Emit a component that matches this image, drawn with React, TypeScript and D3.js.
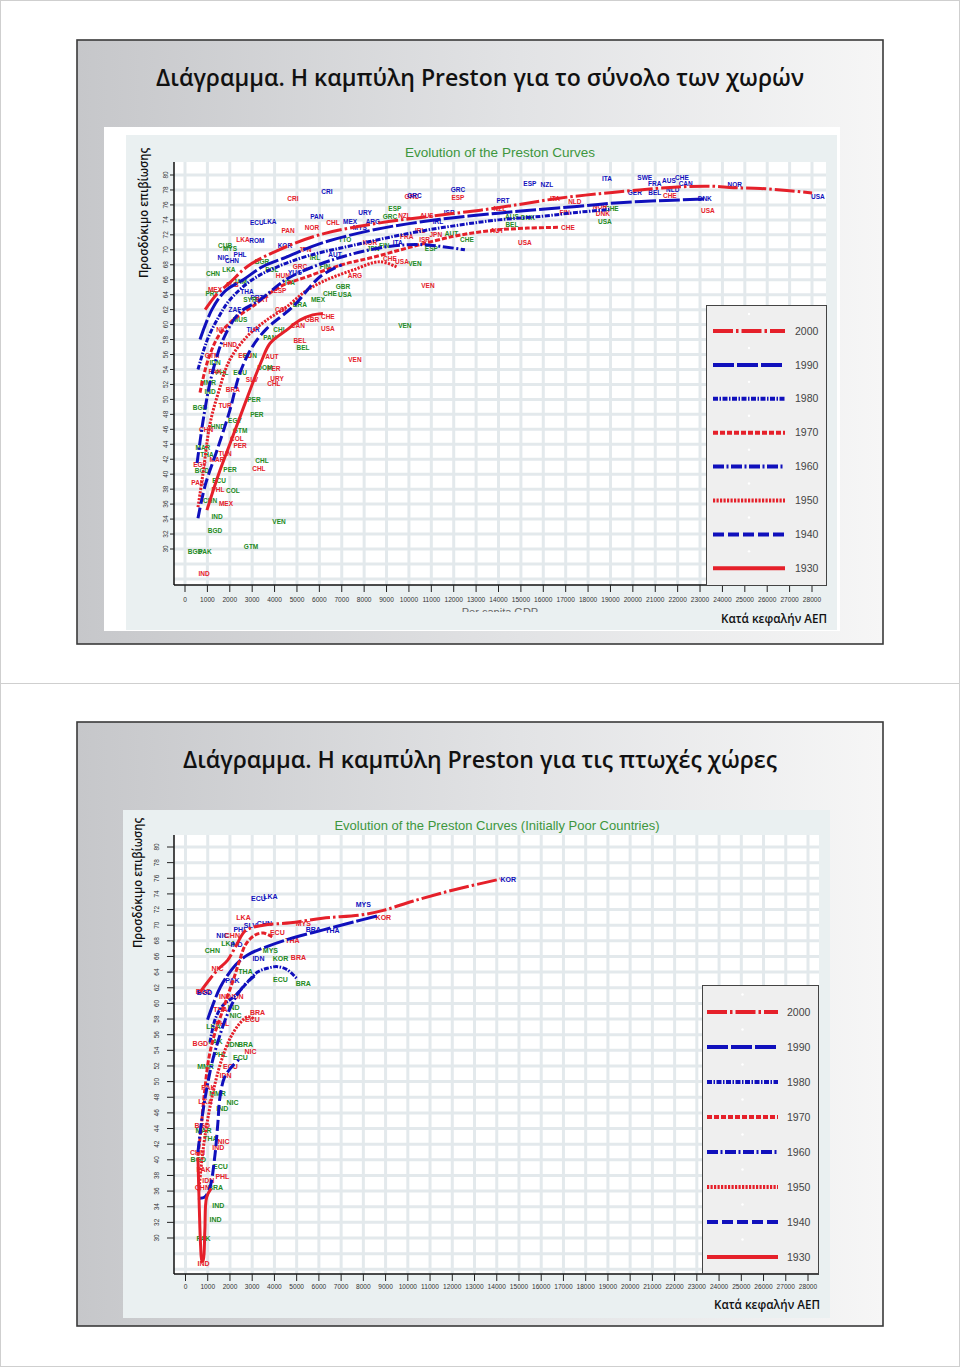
import React from 'react'
import * as d3 from 'd3'

type Pt = [number, number]
type Lab = [string, number, number, string]

// ---- data ----
const years = [2000, 1990, 1980, 1970, 1960, 1950, 1940, 1930]
const xTicks = d3.range(0, 28001, 1000)
const yTicks = d3.range(30, 81, 2)

// all countries: [per capita GDP, life expectancy]
const all2000: Pt[] = [[900, 62], [1400, 64], [2000, 65.6], [2800, 67.8], [4200, 70], [6000, 72], [8700, 73.6], [11000, 74.5], [13200, 75.3], [15000, 76.1], [16700, 76.9], [18500, 77.5], [20300, 78], [22000, 78.4], [23500, 78.5], [24500, 78.3], [25700, 78.2], [27000, 77.9], [28000, 77.6]]
const all1990: Pt[] = [[670, 58], [1200, 62], [1800, 64.5], [2600, 66], [3500, 67.8], [4500, 69], [6000, 70.8], [8300, 72.6], [10000, 73.5], [12000, 74.3], [14000, 74.9], [15400, 75.3], [17500, 75.8], [19400, 76.3], [21500, 76.6], [23300, 76.8]]
const all1980: Pt[] = [[580, 54], [1000, 58], [1500, 61], [2000, 63.3], [3000, 66], [4100, 67.7], [5500, 69.2], [7500, 70.6], [10000, 72.2], [12000, 73.2], [14000, 74], [16000, 74.5], [17500, 75], [19000, 75.4]]
const all1970: Pt[] = [[670, 50.9], [1000, 55], [1500, 58.5], [2100, 60.5], [3000, 62.4], [4200, 65], [5450, 66.4], [7000, 68], [8400, 69], [10000, 70.3], [12000, 71.8], [13750, 72.6], [15300, 72.9], [16700, 73]]
const all1960: Pt[] = [[540, 41.5], [800, 47], [1100, 52], [1400, 55.5], [1700, 58], [2400, 61.5], [3350, 63.3], [4500, 66], [5700, 67.7], [7300, 69.3], [9000, 70.4], [10500, 70.7], [12500, 70]]
const all1950: Pt[] = [[580, 35.6], [800, 40], [1120, 46.8], [1500, 51], [2000, 55.3], [2800, 58.5], [3600, 60.5], [4550, 62.4], [5400, 64.5], [6340, 66], [7500, 67.3], [8700, 68.4], [9460, 67.7]]
const all1940: Pt[] = [[580, 34.1], [900, 38.5], [1430, 43.2], [2000, 48.5], [2450, 53.5], [3000, 57], [3660, 59.5], [4820, 62.4], [6030, 66.4], [7000, 68]]
const all1930: Pt[] = [[980, 35.2], [1500, 40], [2000, 44], [2450, 47.6], [3000, 52], [3400, 55], [3800, 57.5], [4550, 59.3], [5130, 60.6], [5700, 61.3], [6160, 61.5]]

// initially poor countries
const poor2000: Pt[] = [[670, 61.5], [1440, 64.3], [1890, 65.5], [2300, 67.5], [2700, 69.3], [3500, 70], [4720, 70.3], [6160, 70.9], [7860, 71.3], [8900, 71.9], [10250, 73.1], [12050, 74.5], [14160, 75.9]]
const poor1990: Pt[] = [[990, 57.9], [1570, 62.1], [2250, 64.9], [2790, 66.2], [3690, 67.3], [4850, 68.4], [6200, 69.4], [7550, 70.4], [8630, 71.2]]
const poor1980: Pt[] = [[1100, 55], [1350, 58.1], [1700, 59.8], [2160, 60.8], [2790, 62.7], [3240, 64], [3690, 64.5], [4130, 64.7], [4580, 64.3], [5030, 63.1]]
const poor1970: Pt[] = [[560, 40.5], [700, 44], [850, 48.5], [1050, 53], [1300, 56], [1600, 58.5], [1900, 61], [2150, 63], [2400, 65.2], [2700, 67.5], [3100, 68.7], [3500, 69], [3900, 68.5]]
const poor1960: Pt[] = [[560, 41], [750, 45.5], [950, 49], [1200, 52.5], [1500, 55.5], [1800, 58], [2200, 60.5], [2700, 62.5], [3100, 63.5]]
const poor1950: Pt[] = [[600, 36], [800, 41.5], [1050, 46], [1350, 50], [1650, 53], [2000, 55.5], [2400, 57.3], [2800, 58.3], [3100, 58]]
const poor1940: Pt[] = [[560, 35.1], [850, 35.2], [1100, 36.5], [1300, 40], [1450, 44.5], [1550, 48], [1750, 50.5], [2050, 51.8], [2400, 52.8]]
const poor1930: Pt[] = [[560, 40.3], [620, 34], [680, 29], [740, 27], [800, 27.2], [870, 31], [950, 35.2], [1150, 36.3]]

// country codes: [code, gdp, life expectancy, colour key]
const allLabels: Lab[] = [
  ['CRI', 6340, 77.7, 'b'], ['CRI', 4820, 76.8, 'r'], ['GRC', 12190, 78.0, 'b'], ['ESP', 12190, 76.9, 'r'],
  ['GRC', 10130, 77.1, 'r'], ['GRC', 10250, 77.2, 'b'], ['ESP', 9370, 75.5, 'g'], ['URY', 8040, 74.9, 'b'],
  ['PAN', 5890, 74.4, 'b'], ['CHL', 6610, 73.6, 'r'], ['MEX', 7370, 73.7, 'b'], ['GRC', 9150, 74.4, 'g'],
  ['NOR', 5670, 73.0, 'r'], ['PAN', 4600, 72.6, 'r'], ['ECU', 3210, 73.6, 'b'], ['LKA', 3790, 73.7, 'b'],
  ['LKA', 2590, 71.4, 'r'], ['ROM', 3210, 71.2, 'b'], ['NIC', 1700, 69.0, 'b'], ['CHN', 1250, 66.8, 'g'],
  ['PHL', 2460, 69.4, 'b'], ['VEN', 10850, 65.2, 'r'], ['VEN', 9820, 59.9, 'g'], ['GBR', 7050, 65.0, 'g'],
  ['CHE', 6470, 64.1, 'g'], ['USA', 7140, 64.0, 'g'], ['CHE', 6380, 61.0, 'r'], ['USA', 6380, 59.4, 'r'],
  ['GBR', 5670, 60.6, 'r'], ['CAN', 5040, 59.9, 'r'], ['BEL', 5130, 57.9, 'r'], ['VEN', 7590, 55.3, 'r'],
  ['THA', 2770, 64.4, 'b'], ['PRY', 1210, 64.1, 'g'], ['PRT', 3210, 63.6, 'b'], ['CHE', 9150, 68.8, 'r'],
  ['USA', 9690, 68.4, 'r'], ['VEN', 10270, 68.2, 'g'], ['ARG', 7590, 66.6, 'r'], ['ESP', 15400, 78.9, 'b'],
  ['NZL', 16160, 78.7, 'b'], ['ITA', 18840, 79.5, 'b'], ['SWE', 20530, 79.6, 'b'], ['FRA', 20980, 78.9, 'b'],
  ['AUS', 21610, 79.2, 'b'], ['CHE', 22190, 79.7, 'b'], ['CAN', 22360, 78.9, 'b'], ['NOR', 24550, 78.7, 'b'],
  ['USA', 28260, 77.1, 'b'], ['DNK', 23210, 76.8, 'b'], ['USA', 23350, 75.2, 'r'], ['USA', 18750, 73.7, 'g'],
  ['DNK', 18660, 74.8, 'r'], ['CHE', 19060, 75.5, 'g'], ['CHE', 17100, 72.9, 'r'], ['USA', 15180, 70.9, 'r'],
  ['FIN', 16960, 74.9, 'r'], ['GER', 20090, 77.6, 'b'], ['BEL', 20980, 77.6, 'b'], ['NLD', 21780, 78.0, 'b'],
  ['CHE', 21650, 77.2, 'r'], ['ITA', 16520, 76.8, 'r'], ['NLD', 17410, 76.4, 'r'], ['NOR', 18530, 75.7, 'r'],
  ['PRT', 14200, 76.5, 'b'], ['NZL', 14060, 75.5, 'r'], ['AUS', 14600, 74.4, 'g'], ['DNK', 15310, 74.3, 'g'],
  ['BEL', 14600, 73.3, 'g'], ['AUT', 13930, 72.6, 'r'], ['CHE', 12590, 71.3, 'g'], ['IND', 850, 26.7, 'r'],
  ['PAK', 900, 29.7, 'g'], ['BGD', 450, 29.7, 'g'], ['GTM', 2950, 30.3, 'g'], ['VEN', 4200, 33.7, 'g'],
  ['IND', 1430, 34.3, 'g'], ['BGD', 1340, 32.4, 'g'], ['MEX', 1830, 36.1, 'r'], ['PHL', 1470, 37.9, 'r'],
  ['COL', 2140, 37.8, 'g'], ['ECU', 1520, 39.1, 'g'], ['PER', 2010, 40.6, 'g'], ['CHL', 3300, 40.7, 'r'],
  ['CHL', 3440, 41.8, 'g'], ['PER', 2460, 43.8, 'r'], ['COL', 2320, 44.8, 'r'], ['GTM', 2460, 45.8, 'g'],
  ['PER', 3210, 48.0, 'g'], ['URY', 4110, 52.7, 'r'], ['CHL', 3970, 52.1, 'r'], ['PER', 3970, 54.1, 'r'],
  ['AUT', 3880, 55.7, 'r'], ['HUN', 2900, 55.9, 'g'], ['MMR', 1030, 52.2, 'g'], ['ECU', 2460, 53.5, 'g'],
  ['PHL', 1650, 53.5, 'g'], ['BGD', 670, 48.9, 'g'], ['HND', 1470, 46.4, 'g'], ['MAR', 800, 43.6, 'g'],
  ['THA', 980, 42.6, 'g'], ['EGY', 670, 41.2, 'r'], ['BGD', 760, 40.4, 'g'], ['PAK', 580, 38.8, 'r'],
  ['CHN', 1120, 36.5, 'g'], ['BEL', 5270, 56.9, 'g'], ['CHL', 4240, 59.3, 'g'], ['BGR', 3440, 68.4, 'g'],
  ['POL', 3880, 67.3, 'g'], ['HUN', 4370, 66.6, 'r'], ['YUG', 4910, 67.0, 'b'], ['JPN', 5360, 70.0, 'r'],
  ['IRL', 5800, 68.9, 'g'], ['FIN', 6250, 67.8, 'g'], ['AUT', 6700, 69.3, 'b'], ['ITA', 4690, 65.6, 'g'],
  ['PRT', 3440, 63.3, 'r'], ['ESP', 4240, 64.5, 'r'], ['GRC', 5130, 67.8, 'r'], ['KOR', 4460, 70.6, 'b'],
  ['MYS', 7810, 72.9, 'b'], ['ARG', 8390, 73.7, 'b'], ['TTO', 7140, 71.3, 'g'], ['KOR', 8260, 70.9, 'r'],
  ['BRA', 5130, 62.6, 'g'], ['MEX', 5940, 63.3, 'g'], ['COL', 4330, 62.0, 'r'], ['MUS', 2460, 60.6, 'g'],
  ['TUR', 3040, 59.3, 'b'], ['PAN', 3790, 58.2, 'g'], ['ECU', 2680, 55.8, 'r'], ['DOM', 3570, 54.3, 'g'],
  ['SLV', 2990, 52.6, 'r'], ['NIC', 1650, 59.3, 'r'], ['HND', 2010, 57.3, 'r'], ['GTM', 1210, 55.9, 'r'],
  ['IDN', 1340, 54.9, 'g'], ['PAK', 1340, 53.7, 'r'], ['IND', 1120, 51.0, 'g'], ['BRA', 2140, 51.3, 'r'],
  ['PER', 3080, 49.9, 'g'], ['TUR', 1790, 49.1, 'r'], ['EGY', 2230, 47.2, 'g'], ['CHN', 940, 45.9, 'r'],
  ['TUN', 1790, 42.8, 'r'], ['MAR', 1430, 41.9, 'r'], ['LKA', 1960, 67.3, 'g'], ['CHN', 2100, 68.6, 'b'],
  ['JAM', 2460, 65.7, 'g'], ['ALB', 2100, 65.3, 'r'], ['SYR', 2900, 63.3, 'g'], ['MEX', 1340, 64.6, 'r'],
  ['ZAF', 2230, 62.0, 'b'], ['MYS', 2010, 70.2, 'g'], ['CUB', 1790, 70.6, 'g'], ['IRL', 10500, 72.5, 'r'],
  ['JPN', 11200, 72.0, 'r'], ['FRA', 9900, 71.8, 'r'], ['AUT', 11900, 72.1, 'g'], ['ISR', 10700, 71.3, 'r'],
  ['FIN', 8900, 70.6, 'g'], ['JPN', 8400, 70.2, 'g'], ['ITA', 9500, 70.9, 'b'], ['ESP', 11000, 70.2, 'g'],
  ['NZL', 9800, 74.5, 'r'], ['AUS', 10800, 74.6, 'r'], ['ISR', 11800, 74.9, 'b'], ['IRL', 11300, 73.8, 'b'],
]

const poorLabels: Lab[] = [
  ['KOR', 14520, 75.8, 'b'], ['MYS', 8000, 72.6, 'b'], ['KOR', 8900, 71.0, 'r'], ['ECU', 3280, 73.4, 'b'],
  ['LKA', 3820, 73.6, 'b'], ['LKA', 2610, 71.0, 'r'], ['SLV', 2920, 70.0, 'b'], ['CHN', 3550, 70.2, 'b'],
  ['MYS', 5300, 70.2, 'r'], ['ECU', 4130, 69.0, 'r'], ['BRA', 5750, 69.5, 'b'], ['THA', 6610, 69.3, 'b'],
  ['THA', 4810, 68.1, 'r'], ['PHL', 2470, 69.4, 'b'], ['NIC', 1660, 68.7, 'b'], ['CHN', 2110, 68.7, 'r'],
  ['CHN', 1210, 66.7, 'g'], ['LKA', 1930, 67.7, 'g'], ['IND', 2290, 67.5, 'b'], ['MYS', 3820, 66.7, 'g'],
  ['IDN', 3280, 65.7, 'b'], ['KOR', 4270, 65.7, 'g'], ['BRA', 5080, 65.9, 'r'], ['THA', 2700, 64.1, 'g'],
  ['NIC', 1440, 64.4, 'r'], ['ECU', 4270, 63.1, 'g'], ['BRA', 5300, 62.5, 'g'], ['PAK', 2110, 62.9, 'b'],
  ['BGD', 810, 61.5, 'r'], ['BGD', 860, 61.4, 'b'], ['IND', 1780, 60.9, 'r'], ['IDN', 2340, 60.9, 'r'],
  ['THA', 1570, 59.2, 'r'], ['IND', 2160, 59.5, 'g'], ['BRA', 3240, 58.8, 'r'], ['ECU', 3010, 57.9, 'r'],
  ['NIC', 2250, 58.5, 'g'], ['PHL', 1660, 57.4, 'r'], ['LKA', 1260, 57.0, 'g'], ['IDN', 2160, 54.7, 'g'],
  ['BRA', 2700, 54.7, 'g'], ['PAK', 1350, 55.1, 'g'], ['BGD', 670, 54.9, 'r'], ['NIC', 2920, 53.8, 'r'],
  ['ECU', 2470, 53.1, 'g'], ['PHL', 1570, 53.4, 'g'], ['MMR', 900, 51.9, 'g'], ['ECU', 2020, 51.9, 'r'],
  ['IDN', 1800, 50.8, 'r'], ['PAK', 1030, 49.3, 'r'], ['MMR', 1440, 48.5, 'g'], ['NIC', 2110, 47.3, 'g'],
  ['IND', 1660, 46.6, 'g'], ['LKA', 900, 47.4, 'r'], ['BGD', 760, 44.4, 'r'], ['MAR', 810, 43.8, 'g'],
  ['THA', 1120, 42.7, 'g'], ['NIC', 1710, 42.3, 'r'], ['IND', 1480, 41.6, 'r'], ['CHN', 540, 40.9, 'r'],
  ['BGD', 580, 40.0, 'g'], ['PAK', 810, 38.8, 'r'], ['ECU', 1570, 39.1, 'g'], ['PHL', 1660, 37.8, 'r'],
  ['IDN', 1030, 37.4, 'r'], ['BRA', 1350, 36.5, 'g'], ['CHN', 760, 36.4, 'r'], ['IND', 1480, 34.2, 'g'],
  ['IND', 1350, 32.3, 'g'], ['PAK', 810, 29.9, 'g'], ['IND', 810, 26.7, 'r'],
]

const allCurves = [all2000, all1990, all1980, all1970, all1960, all1950, all1940, all1930]
const poorCurves = [poor2000, poor1990, poor1980, poor1970, poor1960, poor1950, poor1940, poor1930]

// ---- styles ----
const RED = '#e5202a'
const BLUE = '#1010bc'
const GREEN = '#238a23'
const colourOf = (k: string) => (k === 'r' ? RED : k === 'b' ? BLUE : GREEN)
const lineStyles = [
  { c: RED, dash: '20,3,2.5,3' },
  { c: BLUE, dash: '21,3' },
  { c: BLUE, dash: '5,1.5,1.5,1.5' },
  { c: RED, dash: '5,2' },
  { c: BLUE, dash: '11,2.5,2,2.5' },
  { c: RED, dash: '2.2,1.3' },
  { c: BLUE, dash: '11,4' },
  { c: RED, dash: undefined },
]
const SANS = 'Arial, "Liberation Sans", sans-serif'
const GREEK = '"Open Sans", "Noto Sans", sans-serif'

function PrestonChart({ cfg, curves, labels }: any) {
  const x = d3.scaleLinear().domain([0, 28000]).range([cfg.x0, cfg.x28])
  const y = d3.scaleLinear().domain([30, 80]).range([cfg.y30, cfg.y80])
  const line = d3.line<Pt>().x(d => x(d[0])).y(d => y(d[1])).curve(d3.curveCatmullRom.alpha(0.5))
  const gridY = d3.range(26, 82, 2).filter(v => y(v) > cfg.top + 2 && y(v) < cfg.bottom - 3)
  const lg = cfg.legend
  return (
    <g>
      <rect x={cfg.panel[0]} y={cfg.panel[1]} width={cfg.panel[2]} height={cfg.panel[3]} fill="#eaf0f1" />
      <rect x={cfg.left} y={cfg.top} width={cfg.right - cfg.left} height={cfg.bottom - cfg.top} fill="#ffffff" />
      {xTicks.map(v => (
        <line key={'gx' + v} x1={x(v)} x2={x(v)} y1={cfg.top} y2={cfg.bottom} stroke="#e3e9ec" strokeWidth={3} />
      ))}
      {gridY.map(v => (
        <line key={'gy' + v} x1={cfg.left} x2={cfg.right} y1={y(v)} y2={y(v)} stroke="#e3e9ec" strokeWidth={3} />
      ))}
      <text x={cfg.titleX} y={cfg.titleY} textAnchor="middle" fontFamily={SANS} fontSize={cfg.titleSize} fill="#3d963d">
        {cfg.title}
      </text>
      {labels.map((d: Lab, i: number) => (
        <text key={'l' + i} x={x(d[1])} y={y(d[2])} dy="0.35em" textAnchor="middle" fontFamily={SANS}
          fontWeight="bold" fontSize={cfg.labelSize} fill={colourOf(d[3])}>{d[0]}</text>
      ))}
      {curves.map((c: Pt[], i: number) => (
        <path key={'c' + i} d={line(c) || ''} fill="none" stroke={lineStyles[i].c} strokeWidth={3}
          strokeDasharray={lineStyles[i].dash} />
      ))}
      {/* axes */}
      <line x1={cfg.left} x2={cfg.left} y1={cfg.top} y2={cfg.bottom} stroke="#111" strokeWidth={1.5} />
      <line x1={cfg.left} x2={cfg.right} y1={cfg.bottom} y2={cfg.bottom} stroke="#111" strokeWidth={1.5} />
      {yTicks.map(v => (
        <g key={'yt' + v}>
          <line x1={cfg.left - cfg.yTickLen} x2={cfg.left} y1={y(v)} y2={y(v)} stroke="#222" strokeWidth={1} />
          <text transform={`translate(${cfg.yLabX},${y(v)}) rotate(-90)`} dy="0.35em" textAnchor="middle"
            fontFamily={SANS} fontSize={6.5} fill="#333">{v}</text>
        </g>
      ))}
      {xTicks.map(v => (
        <g key={'xt' + v}>
          <line x1={x(v)} x2={x(v)} y1={cfg.bottom} y2={cfg.bottom + 7} stroke="#222" strokeWidth={1} />
          <text x={x(v)} y={cfg.bottom + cfg.xLabDy} textAnchor="middle" fontFamily={SANS} fontSize={6.6}
            fill="#333">{v}</text>
        </g>
      ))}
      {/* legend */}
      <rect x={lg.x} y={lg.y} width={lg.w} height={lg.h} fill="#efefef" stroke="#444" strokeWidth={1} />
      {years.map((yr, i) => {
        const ry = lg.row0 + i * lg.step
        return (
          <g key={'lg' + yr}>
            <circle cx={(lg.s0 + lg.s1) / 2} cy={ry - lg.step / 2} r={1.2} fill="#ffffff" />
            <line x1={lg.s0} x2={lg.s1} y1={ry} y2={ry} stroke={lineStyles[i].c} strokeWidth={4}
              strokeDasharray={lineStyles[i].dash} />
            <text x={lg.tx} y={ry} dy="0.35em" fontFamily={SANS} fontSize={10.5} fill="#444">{yr}</text>
          </g>
        )
      })}
      {/* Greek overlays */}
      <text transform={`translate(${cfg.yTitle[0]},${cfg.yTitle[1]}) rotate(-90)`} textAnchor="middle"
        fontFamily={GREEK} fontWeight="600" fontSize={12.5} textLength={130} lengthAdjust="spacingAndGlyphs"
        fill="#111">Προσδόκιμο επιβίωσης</text>
      <text x={cfg.kata[0]} y={cfg.kata[1]} textAnchor="end" fontFamily={GREEK} fontWeight="600" fontSize={12.5}
        textLength={106} lengthAdjust="spacingAndGlyphs" fill="#111">Κατά κεφαλήν ΑΕΠ</text>
    </g>
  )
}

const topCfg = {
  panel: [126, 135, 711, 495], left: 174, right: 826, top: 162, bottom: 585,
  x0: 185, x28: 812, y30: 549, y80: 175, yTickLen: 4, yLabX: 166, xLabDy: 17,
  title: 'Evolution of the Preston Curves', titleX: 500, titleY: 157, titleSize: 13.5, labelSize: 6.5,
  legend: { x: 706.5, y: 305.5, w: 120, h: 280, row0: 331, step: 33.9, s0: 713, s1: 785, tx: 795 },
  yTitle: [148, 213], kata: [827, 623],
}
const bottomCfg = {
  panel: [123, 810, 707, 508], left: 174, right: 819, top: 835, bottom: 1274,
  x0: 185.5, x28: 808, y30: 1238, y80: 847, yTickLen: 7, yLabX: 157, xLabDy: 15,
  title: 'Evolution of the Preston Curves (Initially Poor Countries)', titleX: 497, titleY: 830, titleSize: 13,
  labelSize: 7,
  legend: { x: 702.5, y: 985.5, w: 116, h: 288, row0: 1012, step: 35, s0: 707, s1: 778, tx: 787 },
  yTitle: [142, 883], kata: [820, 1309],
}

function Slide({ y, title, titleLen }: { y: number; title: string; titleLen: number }) {
  return (
    <g>
      <rect x={77} y={y} width={806} height={604} fill="url(#slideGrad)" stroke="#3a3a3a" strokeWidth={1.6} />
      <text x={480} y={y + 46} textAnchor="middle" fontFamily={GREEK} fontWeight="600" fontSize={24}
        textLength={titleLen} lengthAdjust="spacingAndGlyphs" fill="#111">{title}</text>
    </g>
  )
}

export default function App() {
  return (
    <svg width={960} height={1367} style={{ position: 'absolute', left: 0, top: 0, background: '#fff' }}>
      <defs>
        <linearGradient id="slideGrad" x1="0" x2="1" y1="0" y2="0">
          <stop offset="0" stopColor="#c6c7ca" />
          <stop offset="0.55" stopColor="#e2e3e5" />
          <stop offset="1" stopColor="#f6f6f6" />
        </linearGradient>
        <clipPath id="ghostTop"><rect x={400} y={600} width={200} height={12} /></clipPath>
        <clipPath id="ghostLeft"><rect x={144} y={980} width={12} height={150} /></clipPath>
      </defs>
      <rect x={0.5} y={0.5} width={959} height={1366} fill="#fff" stroke="#cfcfcf" />
      <line x1={0} x2={960} y1={683.5} y2={683.5} stroke="#cfcfcf" />

      <Slide y={40} title="Διάγραμμα. Η καμπύλη Preston για το σύνολο των χωρών" titleLen={648} />
      <rect x={104} y={127} width={736} height={504} fill="#ffffff" />
      <PrestonChart cfg={topCfg} curves={allCurves} labels={allLabels} />
      <text x={500} y={616} textAnchor="middle" fontFamily={SANS} fontSize={11} fill="#666" clipPath="url(#ghostTop)">
        Per capita GDP
      </text>

      <Slide y={722} title="Διάγραμμα. Η καμπύλη Preston για τις πτωχές χώρες" titleLen={594} />
      <PrestonChart cfg={bottomCfg} curves={poorCurves} labels={poorLabels} />
      <text transform="translate(153,1056) rotate(-90)" textAnchor="middle" fontFamily={SANS} fontSize={10.5}
        fill="#8a8a8a" clipPath="url(#ghostLeft)">Life Expectancy at birth</text>
    </svg>
  )
}
